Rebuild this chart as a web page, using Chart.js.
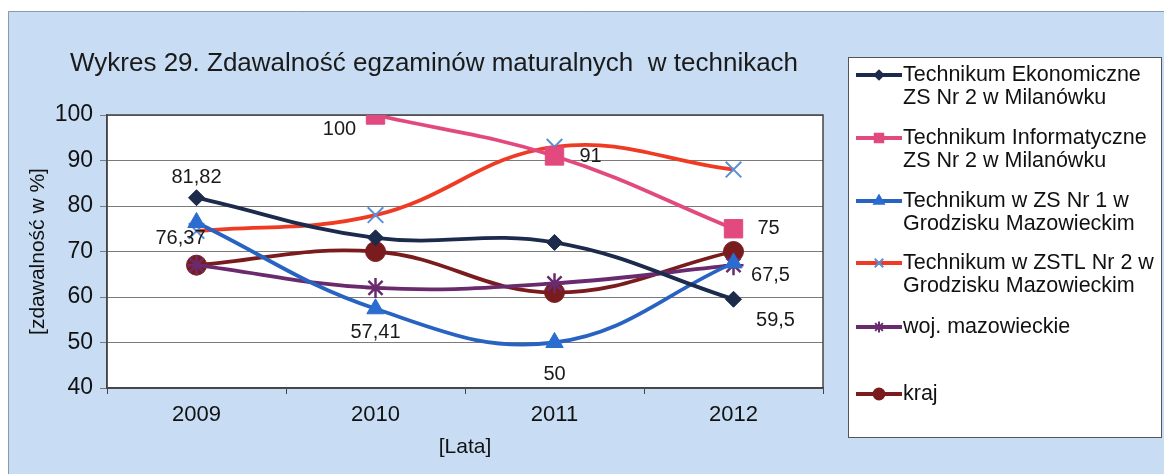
<!DOCTYPE html>
<html>
<head>
<meta charset="utf-8">
<script src="https://cdn.jsdelivr.net/npm/chart.js@4/dist/chart.umd.min.js"></script>
<style>
  html, body { margin: 0; padding: 0; background: #fff; }
  #wrap { width: 1164px; height: 474px; position: relative; }
</style>
</head>
<body>
<div id="wrap"><canvas id="c"></canvas></div>
<script>
// dane z wykresu
const lata = ['2009', '2010', '2011', '2012'];
const ekonomiczne = [81.82, 73, 72, 59.5];
const informatyczne = [null, 100, 91, 75];
const zsNr1 = [76.37, 57.41, 50, 67.5];
const zstl = [74.5, 78, 93, 88];
const mazowieckie = [67, 62, 63, 67];
const kraj = [67, 70, 61, 70];
const yTicks = [40, 50, 60, 70, 80, 90, 100];

const FONT = "'Liberation Sans', Arial, sans-serif";

const series = [
    { label: ['Technikum Ekonomiczne', 'ZS Nr 2 w Milanówku'], data: ekonomiczne, color: '#1c2b4c', style: 'rectRot', radius: 8, fill: '#1c2b4c', bw: 1 },
    { label: ['Technikum Informatyczne', 'ZS Nr 2 w Milanówku'], data: informatyczne, color: '#e2497f', style: 'rect', radius: 13, fill: '#e2497f', bw: 1 },
    { label: ['Technikum w ZS Nr 1 w', 'Grodzisku Mazowieckim'], data: zsNr1, color: '#2863c2', style: 'triangle', radius: 10, fill: '#2a6ccf', bw: 1 },
    { label: ['Technikum w ZSTL Nr 2 w', 'Grodzisku Mazowieckim'], data: zstl, color: '#ef3b24', style: 'crossRot', radius: 11, fill: '#5b8fd4', bw: 2, pointColor: '#5b8fd4' },
    { label: ['woj. mazowieckie'], data: mazowieckie, color: '#6a2b6e', style: 'star', radius: 10, fill: '#6a2b6e', bw: 2.5 },
    { label: ['kraj'], data: kraj, color: '#7a1c1d', style: 'circle', radius: 10, fill: '#7a1c1d', bw: 1 },
];

// etykiety wartości: [seria, punkt, dx, dy]
const etykiety = [
    [0, 0, 0, -20], [0, 3, 42, 21],
    [1, 1, -36, 14], [1, 2, 36, 1], [1, 3, 35, 0],
    [2, 0, -16, 16], [2, 1, 0, 24], [2, 2, 0, 32], [2, 3, 37, 13],
];

const tloPlugin = {
    id: 'tlo',
    beforeDraw(chart) {
        const { ctx, chartArea: a } = chart;
        ctx.save();
        ctx.fillStyle = '#fff';
        ctx.fillRect(0, 0, chart.width, chart.height);
        ctx.fillStyle = '#c8ddf3';
        ctx.fillRect(8, 11, chart.width - 8, chart.height - 11);
        ctx.strokeStyle = '#8a9aab';
        ctx.lineWidth = 1;
        ctx.beginPath();
        ctx.moveTo(8.5, chart.height);
        ctx.lineTo(8.5, 11.5);
        ctx.lineTo(chart.width, 11.5);
        ctx.stroke();
        ctx.fillStyle = '#fff';
        ctx.fillRect(a.left, a.top, a.right - a.left, a.bottom - a.top);
        // tytuł
        ctx.fillStyle = '#1a1a1a';
        ctx.font = '26px ' + FONT;
        ctx.textBaseline = 'middle';
        ctx.fillText('Wykres 29. Zdawalność egzaminów maturalnych  w technikach', 70, 64);
        ctx.restore();
    },
    beforeDatasetsDraw(chart) {
        const { ctx, chartArea: a } = chart;
        ctx.save();
        ctx.strokeStyle = '#444';
        ctx.lineWidth = 1.5;
        ctx.strokeRect(a.left, a.top, a.right - a.left, a.bottom - a.top);
        ctx.restore();
    },
    afterDatasetsDraw(chart) {
        const { ctx } = chart;
        ctx.save();
        ctx.fillStyle = '#1a1a1a';
        ctx.font = '20px ' + FONT;
        ctx.textAlign = 'center';
        ctx.textBaseline = 'middle';
        etykiety.forEach(([di, pi, dx, dy]) => {
            const pt = chart.getDatasetMeta(di).data[pi];
            const v = chart.data.datasets[di].data[pi];
            ctx.fillText(String(v).replace('.', ','), pt.x + dx, pt.y + dy);
        });

        // legenda
        const lx = 848, ly = 57, lw = 313, lh = 380;
        ctx.fillStyle = '#fff';
        ctx.fillRect(lx, ly, lw, lh);
        ctx.strokeStyle = '#555';
        ctx.lineWidth = 1;
        ctx.strokeRect(lx + 0.5, ly + 0.5, lw, lh);
        const rows = [75, 138, 201, 263, 327, 394];
        ctx.textAlign = 'left';
        ctx.font = '21.5px ' + FONT;
        series.forEach((s, i) => {
            const y = rows[i];
            ctx.strokeStyle = s.color;
            ctx.lineWidth = 4;
            ctx.beginPath();
            ctx.moveTo(856, y);
            ctx.lineTo(902, y);
            ctx.stroke();
            ctx.fillStyle = s.fill;
            ctx.strokeStyle = s.pointColor || s.fill;
            ctx.lineWidth = 2;
            Chart.helpers.drawPoint(ctx, { pointStyle: s.style, radius: Math.min(6, s.radius * 0.55), borderWidth: 2, rotation: 0 }, 879, y);
            ctx.fillStyle = '#111';
            s.label.forEach((t, k) => ctx.fillText(t, 903, y + k * 23.5));
        });
        ctx.restore();
    },
};

new Chart(document.getElementById('c'), {
    type: 'line',
    data: {
        labels: lata,
        datasets: series.map(s => ({
            label: s.label.join(' '),
            data: s.data,
            borderColor: s.color,
            borderWidth: 3.8,
            tension: 0.4,
            pointStyle: s.style,
            pointRadius: s.radius,
            pointBackgroundColor: s.fill,
            pointBorderColor: s.pointColor || s.fill,
            pointBorderWidth: s.bw,
        })),
    },
    options: {
        responsive: true,
        maintainAspectRatio: false,
        animation: false,
        layout: { padding: { left: 0, top: 115, right: 341, bottom: 0 } },
        plugins: {
            legend: { display: false },
            title: { display: false },
            tooltip: { enabled: false },
        },
        scales: {
            x: {
                offset: true,
                grid: { offset: true, drawOnChartArea: false, drawTicks: true, tickLength: 6, color: '#444' },
                border: { color: '#444', width: 1.5 },
                ticks: { color: '#111', font: { family: FONT, size: 22 }, padding: 8 },
                title: { display: true, text: '[Lata]', color: '#111', font: { family: FONT, size: 21 }, padding: { top: 0, bottom: 14 } },
                afterFit(s) { s.height = 86; },
            },
            y: {
                min: 40,
                max: 100,
                afterBuildTicks(s) { s.ticks = yTicks.map(v => ({ value: v })); },
                grid: { color: '#7a7a7a', tickLength: 7, lineWidth: 1 },
                border: { color: '#444', width: 1.5 },
                ticks: { color: '#111', font: { family: FONT, size: 23 }, padding: 7 },
                title: { display: true, text: '[zdawalność w %]', color: '#111', font: { family: FONT, size: 21 }, padding: { top: 26, bottom: 0 } },
                afterFit(s) { s.width = 107; },
            },
        },
    },
    plugins: [tloPlugin],
});
</script>
</body>
</html>
